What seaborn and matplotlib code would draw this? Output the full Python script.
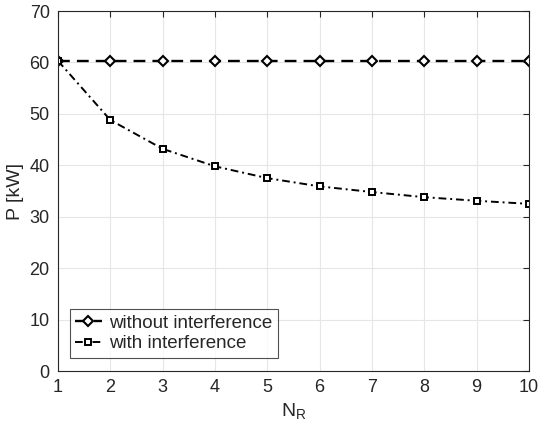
import numpy as np
import pandas as pd
import matplotlib
matplotlib.use("Agg")
import matplotlib.pyplot as plt
import seaborn as sns

n_r = [1, 2, 3, 4, 5, 6, 7, 8, 9, 10]
p_without = [60.3, 60.3, 60.3, 60.3, 60.3, 60.3, 60.3, 60.3, 60.3, 60.3]
p_with = [60.3, 48.8, 43.2, 39.8, 37.5, 35.9, 34.8, 33.8, 33.1, 32.5]

sns.set_style("white")
plt.rcParams['font.family'] = ['Liberation Sans', 'DejaVu Sans']

fig = plt.figure(figsize=(5.39, 4.32), dpi=100)
ax = fig.add_axes([0.1076, 0.1412, 0.8738, 0.8333])

sns.lineplot(x=n_r, y=p_without, ax=ax, color='black', linewidth=1.7,
             marker='D', markersize=5, markerfacecolor='white', markeredgecolor='black',
             markeredgewidth=1.5, label='without interference', dashes=False)
sns.lineplot(x=n_r, y=p_with, ax=ax, color='black', linewidth=1.4,
             marker='s', markersize=4.5, markerfacecolor='white', markeredgecolor='black',
             markeredgewidth=1.4, label='with interference', dashes=False)
ax.lines[0].set_linestyle((0, (5, 3)))
ax.lines[1].set_linestyle((0, (4, 2, 1, 2)))

ax.set_xlim(1, 10)
ax.set_ylim(0, 70)
ax.set_xticks(range(1, 11))
ax.set_yticks(range(0, 71, 10))
ax.grid(True, color='#e6e6e6', linewidth=0.8)
ax.set_axisbelow(True)
for s in ax.spines.values():
    s.set_color('#262626')
    s.set_linewidth(0.8)
ax.tick_params(axis='both', direction='in', length=4, color='#262626', labelsize=13,
               labelcolor='#262626', top=True, right=True, pad=6)
ax.set_xlabel('N$_\\mathregular{R}$', fontsize=14, color='#262626')
ax.set_ylabel('P [kW]', fontsize=14, color='#262626')

leg = ax.legend(loc='lower left', fontsize=13.5, frameon=True, fancybox=False,
                edgecolor='#262626', handlelength=1.4, handletextpad=0.4,
                borderpad=0.3, labelspacing=0.2, bbox_to_anchor=(0.005, 0.01))
leg.get_frame().set_linewidth(0.8)

fig.savefig('out.png', dpi=100)
